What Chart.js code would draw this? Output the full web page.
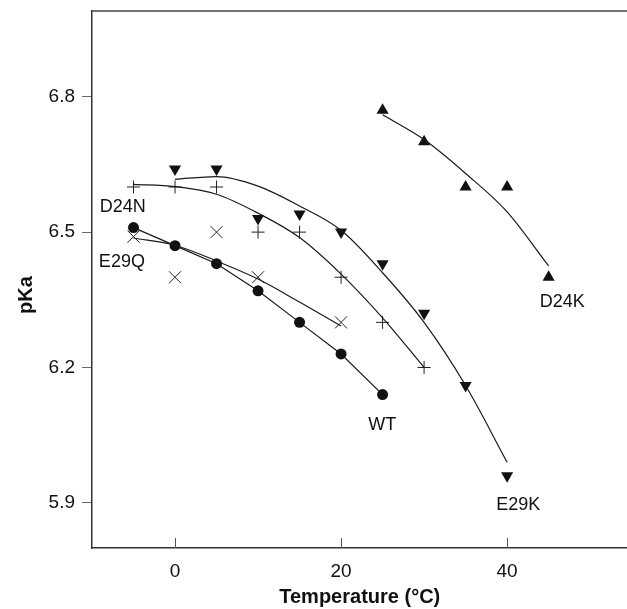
<!DOCTYPE html>
<html>
<head>
<meta charset="utf-8">
<script src="https://cdn.jsdelivr.net/npm/chart.js@4.4.1/dist/chart.umd.min.js"></script>
<style>
  html, body { margin: 0; padding: 0; background: #ffffff; overflow: hidden; width: 627px; height: 609px; }
  #wrap { position: relative; width: 800px; height: 609px; }
</style>
</head>
<body>
<div id="wrap"><canvas id="c" width="637" height="609"></canvas></div>
<script>
// ---- data ----
const wtT = [-5, 0, 5, 10, 15, 20, 25];
const wtPKa = [6.51, 6.47, 6.43, 6.37, 6.30, 6.23, 6.14];

const e29qT = [-5, 0, 5, 10, 20];
const e29qPKa = [6.49, 6.40, 6.50, 6.40, 6.30];

const d24nT = [-5, 0, 5, 10, 15, 20, 25, 30];
const d24nPKa = [6.60, 6.60, 6.60, 6.50, 6.50, 6.40, 6.30, 6.20];

const e29kT = [0, 5, 10, 15, 20, 25, 30, 35, 40];
const e29kPKa = [6.64, 6.64, 6.53, 6.54, 6.50, 6.43, 6.32, 6.16, 5.96];

const d24kT = [25, 30, 35, 40, 45];
const d24kPKa = [6.77, 6.70, 6.60, 6.60, 6.40];

// fitted curves
const e29qFitT = [-5, 0, 5, 10, 15, 20];
const e29qFit = [6.487, 6.471, 6.436, 6.396, 6.345, 6.292];
const d24nFitT = [-5, 0, 5, 10, 15, 20, 25, 30];
const d24nFit = [6.606, 6.601, 6.584, 6.542, 6.488, 6.407, 6.31, 6.20];
const e29kFitT = [0, 5, 10, 15, 20, 25, 30, 35, 40];
const e29kFit = [6.617, 6.623, 6.602, 6.558, 6.504, 6.41, 6.30, 6.16, 5.99];
const d24kFitT = [25, 30, 35, 40, 45];
const d24kFit = [6.76, 6.705, 6.63, 6.545, 6.425];

// tick labels
const xTicks = [0, 20, 40];
const yTicks = [5.9, 6.2, 6.5, 6.8];

// series labels (placed in data coordinates)
const labelText = ['D24N', 'E29Q', 'WT', 'E29K', 'D24K'];
const labelT = [-6.3, -6.4, 24.95, 41.35, 46.65];
const labelPKa = [6.556, 6.434, 6.073, 5.895, 6.345];

const xTitle = 'Temperature (°C)';
const yTitle = 'pKa';

const VIEW_W = 627, VIEW_H = 609;
const pts = (xs, ys) => xs.map((x, i) => ({ x: x, y: ys[i] }));
const FONT = '"Liberation Sans", Arial, Helvetica, sans-serif';
const INK = '#111111';

function fitLine(xs, ys) {
  return {
    type: 'line', data: pts(xs, ys), showLine: true, pointRadius: 0,
    borderColor: '#1a1a1a', borderWidth: 1.2, fill: false,
    cubicInterpolationMode: 'monotone'
  };
}

const overlay = {
  id: 'overlay',
  afterDraw(chart) {
    const ctx = chart.ctx, a = chart.chartArea;
    const xs = chart.scales.x, ys = chart.scales.y;
    ctx.save();
    // top frame line
    ctx.strokeStyle = '#444';
    ctx.lineWidth = 1.5;
    ctx.beginPath();
    ctx.moveTo(a.left, a.top); ctx.lineTo(a.right, a.top);
    ctx.stroke();
    // inward x ticks
    ctx.lineWidth = 1;
    ctx.strokeStyle = '#555';
    xTicks.forEach(v => {
      const px = Math.round(xs.getPixelForValue(v)) + 0.5;
      ctx.beginPath();
      ctx.moveTo(px, a.bottom); ctx.lineTo(px, a.bottom - 10);
      ctx.stroke();
    });
    // series labels
    ctx.fillStyle = INK;
    ctx.font = '18px ' + FONT;
    ctx.textAlign = 'center';
    ctx.textBaseline = 'middle';
    labelText.forEach((t, i) => {
      ctx.fillText(t, xs.getPixelForValue(labelT[i]), ys.getPixelForValue(labelPKa[i]));
    });
    // axis titles
    ctx.font = 'bold 20px ' + FONT;
    ctx.fillText(xTitle, (a.left + a.right) / 2, 597);
    ctx.translate(26, 295);
    ctx.rotate(-Math.PI / 2);
    ctx.fillText(yTitle, 0, 0);
    ctx.restore();
  }
};

const chart = new Chart(document.getElementById('c'), {
  type: 'scatter',
  data: {
    datasets: [
      fitLine(e29qFitT, e29qFit),
      fitLine(d24nFitT, d24nFit),
      fitLine(e29kFitT, e29kFit),
      fitLine(d24kFitT, d24kFit),
      { data: pts(wtT, wtPKa), showLine: true, borderColor: '#1a1a1a', borderWidth: 1.2,
        pointStyle: 'circle', pointRadius: 5.5, pointBackgroundColor: INK, pointBorderColor: INK, pointBorderWidth: 0 },
      { data: pts(e29qT, e29qPKa), showLine: false, pointStyle: 'crossRot', pointRadius: 8.5,
        pointBorderColor: '#222', pointBorderWidth: 1 },
      { data: pts(d24nT, d24nPKa), showLine: false, pointStyle: 'cross', pointRadius: 6.5,
        pointBorderColor: '#222', pointBorderWidth: 1 },
      { data: pts(e29kT, e29kPKa), showLine: false, pointStyle: 'triangle', pointRotation: 180, pointRadius: 7,
        pointBackgroundColor: INK, pointBorderColor: INK, pointBorderWidth: 0 },
      { data: pts(d24kT, d24kPKa), showLine: false, pointStyle: 'triangle', pointRadius: 7,
        pointBackgroundColor: INK, pointBorderColor: INK, pointBorderWidth: 0 }
    ]
  },
  options: {
    responsive: false,
    animation: false,
    layout: { padding: { top: 11, right: 0, left: 0, bottom: 0 } },
    plugins: { legend: { display: false }, tooltip: { enabled: false } },
    scales: {
      x: {
        type: 'linear', min: -10, max: 54.5,
        afterBuildTicks: s => { s.ticks = xTicks.map(v => ({ value: v })); },
        afterFit: s => { s.height = 61; s.paddingLeft = 0; s.paddingRight = 0; },
        grid: { drawOnChartArea: false, drawTicks: false },
        border: { display: true, color: '#333', width: 1.5 },
        ticks: { padding: 12, color: INK, font: { family: FONT, size: 19 },
                 callback: v => String(v) }
      },
      y: {
        type: 'linear', min: 5.8, max: 6.99,
        afterBuildTicks: s => { s.ticks = yTicks.map(v => ({ value: v })); },
        afterFit: s => { s.width = 92; s.paddingTop = 0; s.paddingBottom = 0; },
        grid: { drawOnChartArea: false, drawTicks: true, tickLength: 10, color: '#666' },
        border: { display: true, color: '#333', width: 1.5 },
        ticks: { padding: 7, color: INK, font: { family: FONT, size: 19 },
                 callback: v => v.toFixed(1) }
      }
    }
  },
  plugins: [overlay]
});
// the reference's plot frame runs to the right edge of the picture:
// size the canvas (its extra strip lies outside the window) so the plot area reaches it
for (let k = 0; k < 4; k++) {
  const gap = VIEW_W - chart.chartArea.right;
  if (Math.abs(gap) < 0.5) break;
  chart.resize(Math.round(chart.width + gap), VIEW_H);
}
</script>
</body>
</html>
